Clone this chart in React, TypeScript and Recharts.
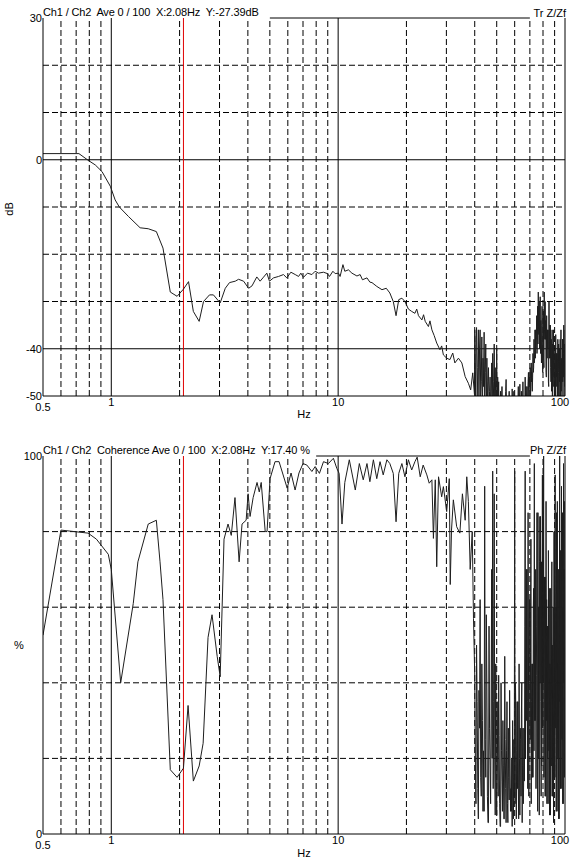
import React from 'react'
import { LineChart, Line, XAxis, YAxis, ReferenceLine } from 'recharts'

const FONT = '"Liberation Sans", Arial, sans-serif'

// cursor position (Hz)
const cursorHz = 2.08

// frequency grid (log axis)
const xTicks = [0.5, 1, 10, 100]
const decadeHz = [1, 10, 100]
const minorHz = [0.6, 0.7, 0.8, 0.9, 2, 3, 4, 5, 6, 7, 8, 9, 20, 30, 40, 50, 60, 70, 80, 90]

// level grid
const dbTicks = [30, 0, -40, -50]
const dbSolid = [0, -40]
const dbDashed = [20, 10, -10, -20, -30]
const pctTicks = [100, 0]
const pctDashed = [80, 60, 40, 20]

// transfer function magnitude, [Hz, dB]
const trLow = [
  [0.5, 1.3], [0.72, 1.3], [0.79, -0.1], [0.85, -1.1], [0.91, -2.5], [0.99, -5.6],
  [1.04, -8.5], [1.085, -10], [1.19, -12], [1.34, -14.4], [1.455, -14.6], [1.58, -15.2],
  [1.69, -18.7], [1.82, -28], [1.95, -28.9], [2.08, -27.39], [2.19, -25.8], [2.3, -32.1],
  [2.44, -34.2], [2.55, -30], [2.71, -28.6], [2.82, -28.6], [3.02, -30.3],
]
const trMid = [
  [3.18, -27.2], [3.32, -26], [3.52, -25.7], [3.64, -25.3], [3.83, -25.7], [4.03, -27.2],
  [4.17, -26.7], [4.38, -24.8], [4.53, -25.7], [4.66, -25], [4.85, -24], [4.98, -25.7],
  [5.19, -25], [5.46, -24.7], [5.74, -24.3], [5.94, -25], [6.19, -23.8], [6.47, -24.3],
  [6.69, -24.7], [6.85, -24], [7.03, -24.9], [7.33, -24], [7.66, -24.3], [7.92, -23.6],
  [8.19, -24], [8.62, -23.8], [8.97, -24.1], [9.16, -24.7], [9.48, -23.6], [9.7, -24.1],
  [10.03, -24], [10.2, -24.7], [10.5, -22.2], [10.7, -23.6], [11.1, -23.3], [11.5, -24],
  [12.1, -24.6], [12.5, -24.3], [12.8, -25.4], [13.4, -25], [13.8, -25.9],
]
const trSlope = [
  [14.1, -26], [14.8, -26.8], [15.6, -27.5], [16.3, -27.2], [16.9, -28.2], [17.5, -30],
  [18.0, -33], [18.5, -29.6], [19.1, -29.3], [19.7, -30], [20.4, -31.6], [21.1, -32.1],
  [21.8, -32.5], [22.2, -31.6], [22.6, -33], [23.4, -33.9], [23.8, -32.8], [24.2, -34.2],
  [25.0, -35.3], [25.4, -34.1], [25.9, -36], [26.5, -37.2], [27.2, -38.8], [28.1, -40.2],
  [28.6, -39.4], [29.1, -41.3], [30.1, -42], [31.1, -42.3], [32.0, -40.9], [32.7, -43],
  [33.9, -42], [35.1, -43], [36.3, -45.9], [37.5, -47.3], [38.4, -48.7], [39.2, -45.1],
  [39.9, -49.7],
]

// coherence, [Hz, %]
const cohLow = [
  [0.5, 52.6], [0.6, 80.4], [0.79, 79.6], [0.86, 78], [0.97, 74], [1.0, 70], [1.1, 40],
  [1.25, 61], [1.31, 72], [1.455, 82], [1.58, 83], [1.64, 72], [1.69, 62], [1.82, 17],
  [1.95, 15], [2.08, 17.4], [2.18, 34], [2.3, 14], [2.44, 18], [2.54, 24], [2.67, 52],
  [2.78, 58], [2.93, 47], [3.02, 41.6], [3.14, 78], [3.27, 82], [3.38, 79], [3.51, 89],
  [3.66, 72], [3.77, 82], [3.93, 83], [4.01, 90], [4.09, 84], [4.22, 89], [4.39, 93],
  [4.49, 90.5], [4.58, 93], [4.77, 80], [4.86, 80], [5.01, 94], [5.27, 98.5], [5.49, 98.5],
  [5.96, 91.5], [6.2, 95.5], [6.46, 91], [6.72, 95.5],
]
const cohMid = [
  [7.0, 98], [7.28, 97.6], [7.66, 95.9], [7.92, 97.2], [8.27, 95.4], [8.62, 98.5],
  [9.06, 98], [9.53, 99.4], [9.87, 96.7], [10.1, 95.4], [10.4, 82], [10.7, 93], [11.2, 99],
  [11.9, 91], [12.4, 98], [12.9, 93.7], [13.4, 98], [13.8, 93.2], [14.3, 99], [14.8, 94],
  [15.3, 98.5], [15.8, 95], [16.4, 99], [16.9, 98], [17.5, 95.4], [18.0, 82.6],
  [18.5, 95.4], [19.1, 98], [19.7, 94.5], [20.4, 99], [21.1, 96.3], [21.8, 98.5],
  [22.3, 99.7], [23.0, 94.5], [23.7, 97.6], [24.6, 95], [25.2, 92.8], [25.9, 93.7],
  [26.3, 78.2], [26.8, 93.7], [27.2, 70.7], [27.7, 94.5], [28.6, 89.2], [29.1, 91.9],
  [30.1, 85.3], [30.9, 94], [31.2, 66], [31.6, 80.4], [32.2, 88.4], [33.3, 81.3],
  [34.4, 79.6], [35.3, 90], [36.3, 83], [36.9, 94.5], [37.5, 88], [38.2, 70], [39.0, 80],
  [39.5, 57],
]

// noisy upper band, 40..100 Hz
const hfHz = [
  40, 40.25, 40.5, 40.75, 41, 41.25, 41.5, 41.75,
  42, 42.25, 42.5, 42.75, 43, 43.25, 43.5, 43.75,
  44, 44.25, 44.5, 44.75, 45, 45.25, 45.5, 45.75,
  46, 46.25, 46.5, 46.75, 47, 47.25, 47.5, 47.75,
  48, 48.25, 48.5, 48.75, 49, 49.25, 49.5, 49.75,
  50, 50.25, 50.5, 50.75, 51, 51.25, 51.5, 51.75,
  52, 52.25, 52.5, 52.75, 53, 53.25, 53.5, 53.75,
  54, 54.25, 54.5, 54.75, 55, 55.25, 55.5, 55.75,
  56, 56.25, 56.5, 56.75, 57, 57.25, 57.5, 57.75,
  58, 58.25, 58.5, 58.75, 59, 59.25, 59.5, 59.75,
  60, 60.25, 60.5, 60.75, 61, 61.25, 61.5, 61.75,
  62, 62.25, 62.5, 62.75, 63, 63.25, 63.5, 63.75,
  64, 64.25, 64.5, 64.75, 65, 65.25, 65.5, 65.75,
  66, 66.25, 66.5, 66.75, 67, 67.25, 67.5, 67.75,
  68, 68.25, 68.5, 68.75, 69, 69.25, 69.5, 69.75,
  70, 70.25, 70.5, 70.75, 71, 71.25, 71.5, 71.75,
  72, 72.25, 72.5, 72.75, 73, 73.25, 73.5, 73.75,
  74, 74.25, 74.5, 74.75, 75, 75.25, 75.5, 75.75,
  76, 76.25, 76.5, 76.75, 77, 77.25, 77.5, 77.75,
  78, 78.25, 78.5, 78.75, 79, 79.25, 79.5, 79.75,
  80, 80.25, 80.5, 80.75, 81, 81.25, 81.5, 81.75,
  82, 82.25, 82.5, 82.75, 83, 83.25, 83.5, 83.75,
  84, 84.25, 84.5, 84.75, 85, 85.25, 85.5, 85.75,
  86, 86.25, 86.5, 86.75, 87, 87.25, 87.5, 87.75,
  88, 88.25, 88.5, 88.75, 89, 89.25, 89.5, 89.75,
  90, 90.25, 90.5, 90.75, 91, 91.25, 91.5, 91.75,
  92, 92.25, 92.5, 92.75, 93, 93.25, 93.5, 93.75,
  94, 94.25, 94.5, 94.75, 95, 95.25, 95.5, 95.75,
  96, 96.25, 96.5, 96.75, 97, 97.25, 97.5, 97.75,
  98, 98.25, 98.5, 98.75, 99, 99.25, 99.5, 99.75,
  100,
]
const trHigh = [
  -36, -51, -38, -35.5, -52, -44, -36, -53,
  -40, -36, -50, -47, -37.5, -54, -42, -48,
  -36.5, -52, -45, -39, -55, -42, -51, -47,
  -44, -53, -49, -46, -52, -50, -43, -54,
  -41, -52, -47, -39, -53, -44, -51, -49,
  -40, -53, -46, -51, -47, -55, -50, -52,
  -49, -54, -51, -48, -53, -56, -50, -52,
  -50.5, -53, -55, -49, -46.5, -52, -54, -51,
  -51, -54, -52, -49, -55, -53, -50, -56,
  -52, -55, -48.5, -53, -51, -56, -49, -54,
  -51, -54, -50, -55, -53, -52, -56, -50,
  -52, -48, -55, -53, -51, -47.5, -54, -52,
  -54, -49, -53, -51, -52, -47, -55, -50,
  -55, -50, -53, -46, -52, -48, -55, -50,
  -48, -53, -51, -47, -45, -52, -50, -46,
  -47, -44, -50, -48, -43, -47, -45, -49,
  -46, -41, -45, -44, -38, -43, -42, -36,
  -42, -36, -40, -38, -33, -41, -39, -31,
  -39, -28, -36, -37, -30, -40, -34, -29,
  -41, -34, -38, -43, -35, -31, -39, -45,
  -39, -32, -42, -44, -28, -36, -38, -30,
  -38, -34, -45, -46, -33, -40, -42, -36,
  -40, -36, -47, -48, -30, -39, -42, -35,
  -42, -35, -44, -47, -38, -49, -43, -36,
  -50, -39, -46, -45, -36, -48, -41, -52,
  -49, -40, -45, -52, -37, -44, -48, -41,
  -46, -41, -50, -43, -38, -51, -45, -39,
  -45, -52, -40, -47, -44, -38, -50, -42,
  -36, -49, -43, -42, -51, -46, -38, -47,
  -38, -46, -41, -35, -50, -44, -39, -48,
  -36,
]
const cohHigh = [
  42, 20, 8, 50, 35, 12, 4, 38,
  28, 62, 15, 10, 45, 30, 6, 22,
  6, 92, 25, 15, 58, 40, 10, 3,
  3, 55, 28, 18, 8, 32, 70, 20,
  96, 12, 35, 90, 20, 5, 45, 15,
  5, 35, 18, 10, 42, 26, 8, 2,
  2, 40, 22, 14, 6, 30, 18, 4,
  4, 47, 25, 12, 3, 22, 35, 8,
  3, 28, 15, 9, 38, 20, 6, 12,
  6, 20, 2, 30, 15, 4, 25, 10,
  96, 8, 40, 30, 4, 22, 35, 12,
  35, 12, 4, 45, 20, 5, 28, 25,
  10, 32, 40, 3, 18, 28, 8, 14,
  28, 14, 55, 96, 20, 45, 70, 30,
  70, 35, 12, 85, 50, 10, 40, 62,
  62, 25, 48, 78, 8, 35, 45, 15,
  45, 15, 60, 65, 22, 98, 30, 50,
  30, 70, 12, 42, 55, 85, 20, 6,
  85, 20, 60, 35, 5, 72, 84, 40,
  84, 35, 10, 72, 18, 55, 95, 28,
  95, 40, 100, 15, 25, 68, 45, 10,
  68, 10, 88, 30, 62, 8, 55, 20,
  55, 8, 75, 40, 22, 65, 5, 45,
  45, 5, 65, 30, 18, 50, 72, 10,
  50, 10, 38, 60, 3, 42, 80, 15,
  80, 15, 95, 40, 28, 60, 6, 85,
  60, 6, 88, 25, 20, 70, 45, 4,
  70, 4, 55, 100, 35, 75, 12, 60,
  75, 12, 92, 30, 25, 60, 85, 8,
  60, 8, 98, 45, 40, 70, 15, 88,
  70,
]

const toRows = (pairs: number[][]) => pairs.map(([f, v]) => ({ f, v }))
const trData = [
  ...toRows(trLow),
  ...toRows(trMid),
  ...toRows(trSlope),
  ...hfHz.map((f, i) => ({ f, v: trHigh[i] })),
]
const cohData = [
  ...toRows(cohLow),
  ...toRows(cohMid),
  ...hfHz.map((f, i) => ({ f, v: cohHigh[i] })),
]

function HzTick({ x, y, payload }: any) {
  const v = payload.value
  const dy = v === 0.5 ? 15 : 9.5
  const dx = v === 100 ? -5 : 0
  return (
    <text x={x + dx} y={y + dy} textAnchor="middle" fontSize={11} fontFamily={FONT} fill="#000">
      {v}
    </text>
  )
}

function LevelTick({ x, y, payload }: any) {
  return (
    <text x={x} y={y + 4} textAnchor="end" fontSize={11} fontFamily={FONT} fill="#000">
      {payload.value}
    </text>
  )
}

const dash = '6 3'

function Panel({
  data,
  height,
  top,
  axisH,
  domain,
  ticks,
  solid,
  dashed,
  borderFrom,
}: {
  data: { f: number; v: number }[]
  height: number
  top: number
  axisH: number
  domain: [number, number]
  ticks: number[]
  solid: number[]
  dashed: number[]
  borderFrom: number
}) {
  return (
    <LineChart width={571} height={height} data={data} margin={{ top, right: 6, bottom: 0, left: 0 }}>
      <XAxis
        dataKey="f"
        type="number"
        scale="log"
        domain={[0.5, 100]}
        allowDataOverflow
        ticks={xTicks}
        interval={0}
        height={axisH}
        tickSize={0}
        tickMargin={0}
        tick={<HzTick />}
        axisLine={{ stroke: '#000' }}
        tickLine={false}
      />
      <YAxis
        type="number"
        domain={domain}
        allowDataOverflow
        ticks={ticks}
        interval={0}
        width={43}
        tickSize={0}
        tickMargin={1}
        tick={<LevelTick />}
        axisLine={{ stroke: '#000' }}
        tickLine={false}
      />
      {minorHz.map((f) => (
        <ReferenceLine key={'m' + f} x={f} stroke="#000" strokeDasharray={dash} />
      ))}
      {decadeHz.map((f) => (
        <ReferenceLine key={'d' + f} x={f} stroke="#000" />
      ))}
      {dashed.map((v) => (
        <ReferenceLine key={'h' + v} y={v} stroke="#000" strokeDasharray={dash} />
      ))}
      {solid.map((v) => (
        <ReferenceLine key={'s' + v} y={v} stroke="#000" />
      ))}
      <ReferenceLine
        segment={[
          { x: borderFrom, y: domain[1] },
          { x: 70, y: domain[1] },
        ]}
        stroke="#000"
      />
      <ReferenceLine x={cursorHz} stroke="#e00000" />
      <Line
        type="linear"
        dataKey="v"
        stroke="#1e1e1e"
        strokeWidth={1}
        dot={false}
        activeDot={false}
        isAnimationActive={false}
      />
    </LineChart>
  )
}

const txt = { fontSize: 11, fontFamily: FONT, fill: '#000' }
const title = { ...txt, letterSpacing: -0.15, style: { whiteSpace: 'pre' as const } }

export default function App() {
  return (
    <div style={{ position: 'absolute', left: 0, top: 0, width: 571, height: 859, background: '#fff' }}>
      <div style={{ position: 'absolute', left: 0, top: 0 }}>
        <Panel
          data={trData}
          height={420}
          top={18}
          axisH={24}
          domain={[-50, 30]}
          ticks={dbTicks}
          solid={dbSolid}
          dashed={dbDashed}
          borderFrom={5}
        />
      </div>
      <div style={{ position: 'absolute', left: 0, top: 420 }}>
        <Panel
          data={cohData}
          height={439}
          top={36}
          axisH={25}
          domain={[0, 100]}
          ticks={pctTicks}
          solid={[]}
          dashed={pctDashed}
          borderFrom={8}
        />
      </div>
      <svg
        width={571}
        height={859}
        style={{ position: 'absolute', left: 0, top: 0, pointerEvents: 'none' }}
      >
        <text x={43} y={16} {...title}>
          {'Ch1 / Ch2  Ave 0 / 100  X:2.08Hz  Y:-27.39dB'}
        </text>
        <text x={566} y={16.5} textAnchor="end" {...txt}>
          Tr Z/Zf
        </text>
        <text x={13} y={209} textAnchor="middle" transform="rotate(-90 13 209)" {...txt}>
          dB
        </text>
        <text x={304} y={418} textAnchor="middle" {...txt}>
          Hz
        </text>
        <text x={43} y={454} {...title}>
          {'Ch1 / Ch2  Coherence Ave 0 / 100  X:2.08Hz  Y:17.40 %'}
        </text>
        <text x={566} y={454} textAnchor="end" {...txt}>
          Ph Z/Zf
        </text>
        <text x={19} y={649} textAnchor="middle" {...txt}>
          %
        </text>
        <text x={304} y={857} textAnchor="middle" {...txt}>
          Hz
        </text>
      </svg>
    </div>
  )
}
